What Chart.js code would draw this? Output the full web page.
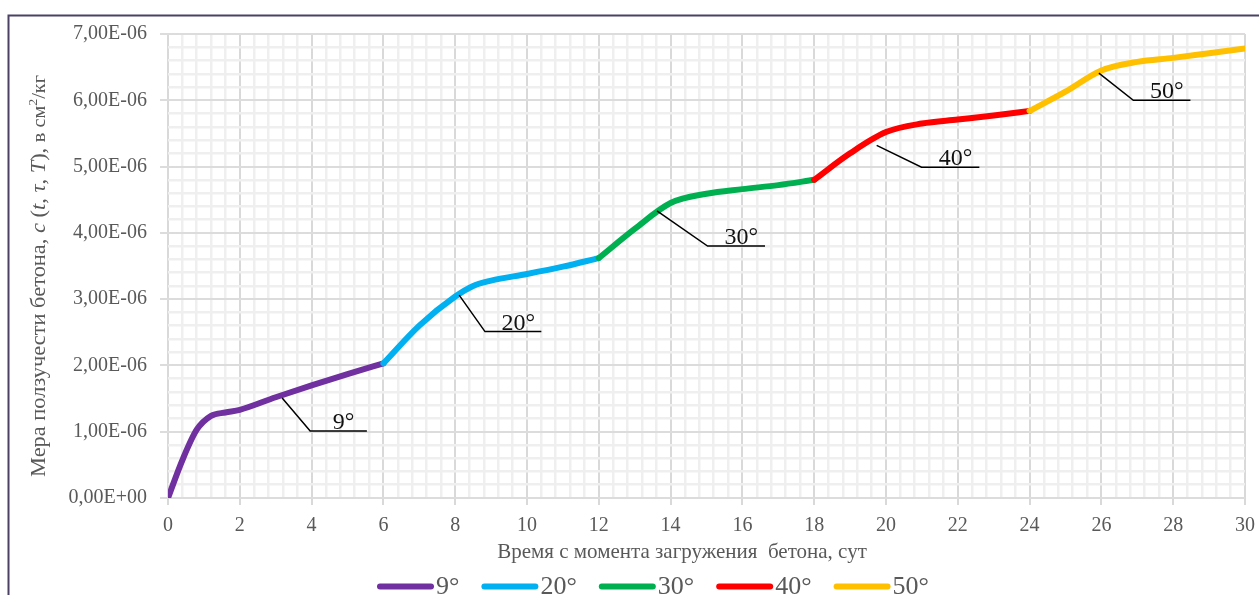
<!DOCTYPE html>
<html>
<head>
<meta charset="utf-8">
<script src="https://cdn.jsdelivr.net/npm/chart.js@4.4.1/dist/chart.umd.min.js"></script>
<style>
  html, body { margin: 0; padding: 0; background: #ffffff; overflow: hidden; }
  canvas { display: block; }
</style>
</head>
<body>
<canvas id="creep" width="1259" height="595"></canvas>
<script>
// Temperature regimes (one curve per 6-day period)
const seriesLabels = ['9°', '20°', '30°', '40°', '50°'];
const seriesColors = ['#7030a0', '#00b0f0', '#00b050', '#ff0000', '#ffc000'];

// Days since loading, per regime
const days9  = [0, 0.4, 0.8, 1.2, 1.6, 2, 3, 4, 5, 6];
const days20 = [6, 7, 8, 8.5, 9, 10, 11, 12];
const days30 = [12, 13, 14, 15, 16, 17, 18];
const days40 = [18, 19, 20, 21, 22, 23, 24];
const days50 = [24, 25, 26, 27, 28, 29, 30];

// Specific creep c(t, τ, T), cm²/kg
const creep9  = [0, 5.7e-7, 1.03e-6, 1.24e-6, 1.29e-6, 1.33e-6, 1.52e-6, 1.70e-6, 1.87e-6, 2.03e-6];
const creep20 = [2.03e-6, 2.60e-6, 3.04e-6, 3.20e-6, 3.28e-6, 3.38e-6, 3.49e-6, 3.62e-6];
const creep30 = [3.62e-6, 4.06e-6, 4.45e-6, 4.59e-6, 4.66e-6, 4.72e-6, 4.80e-6];
const creep40 = [4.80e-6, 5.20e-6, 5.52e-6, 5.65e-6, 5.71e-6, 5.77e-6, 5.84e-6];
const creep50 = [5.84e-6, 6.13e-6, 6.45e-6, 6.58e-6, 6.64e-6, 6.71e-6, 6.78e-6];

const seriesDays  = [days9, days20, days30, days40, days50];
const seriesCreep = [creep9, creep20, creep30, creep40, creep50];

// Leader callouts: point on the curve, elbow, end of the shelf (data coordinates)
const calloutLabels = ['9°', '20°', '30°', '40°', '50°'];
const calloutTipX   = [3.18, 8.11, 13.62, 19.74, 25.93];
const calloutTipY   = [1.51e-6, 3.06e-6, 4.33e-6, 5.32e-6, 6.41e-6];
const calloutElbowX = [3.96, 8.83, 15.03, 20.99, 26.89];
const calloutElbowY = [1.01e-6, 2.51e-6, 3.80e-6, 4.99e-6, 6.00e-6];
const calloutEndX   = [5.54, 10.40, 16.63, 22.60, 28.48];

// Axis settings
const xMin = 0, xMax = 30, xMinorStep = 0.4, xMajorStep = 2;
const yMin = 0, yMax = 7e-6, yMinorStep = 2e-7, yMajorStep = 1e-6;

const xTitle = 'Время с момента загружения  бетона, сут';

const SERIF = '"Liberation Serif", "Times New Roman", serif';
const TEXT_GREY = '#595959';

const isMajor = (v, step) => Math.abs(v / step - Math.round(v / step)) < 1e-6;

function excelSci(v) {
  // 7e-6 -> "7,00E-06"
  const [m, e] = v.toExponential(2).split('e');
  const n = parseInt(e, 10);
  const exp = (n < 0 ? '-' : '+') + String(Math.abs(n)).padStart(2, '0');
  return m.replace('.', ',') + 'E' + exp;
}

const datasets = seriesLabels.map((label, i) => ({
  label,
  data: seriesDays[i].map((d, j) => ({ x: d, y: seriesCreep[i][j] })),
  borderColor: seriesColors[i],
  backgroundColor: seriesColors[i],
  borderWidth: 6,
  pointRadius: 0,
  pointHoverRadius: 0,
  fill: false,
  cubicInterpolationMode: 'monotone',
  borderCapStyle: 'round',
  borderJoinStyle: 'round',
  order: seriesLabels.length - i
}));

// Frame around the whole chart
const framePlugin = {
  id: 'frame',
  beforeDraw(chart) {
    const { ctx, width, height } = chart;
    ctx.save();
    ctx.fillStyle = '#ffffff';
    ctx.fillRect(0, 0, width, height);
    ctx.strokeStyle = '#4a4165';
    ctx.lineWidth = 2;
    ctx.beginPath();
    ctx.moveTo(width + 5, 15.5);
    ctx.lineTo(8.5, 15.5);
    ctx.lineTo(8.5, height + 5);
    ctx.stroke();
    ctx.restore();
  }
};

// Callout leaders with temperature labels
const calloutPlugin = {
  id: 'callouts',
  afterDatasetsDraw(chart) {
    const { ctx } = chart;
    const xs = chart.scales.x, ys = chart.scales.y;
    ctx.save();
    ctx.strokeStyle = '#000000';
    ctx.lineWidth = 1.5;
    ctx.fillStyle = '#111111';
    ctx.font = '24px ' + SERIF;
    ctx.textAlign = 'center';
    ctx.textBaseline = 'alphabetic';
    calloutLabels.forEach((txt, i) => {
      const tx = xs.getPixelForValue(calloutTipX[i]);
      const ty = ys.getPixelForValue(calloutTipY[i]);
      const ex = xs.getPixelForValue(calloutElbowX[i]);
      const ey = ys.getPixelForValue(calloutElbowY[i]);
      const endX = xs.getPixelForValue(calloutEndX[i]);
      ctx.beginPath();
      ctx.moveTo(tx, ty);
      ctx.lineTo(ex, ey);
      ctx.lineTo(endX, ey);
      ctx.stroke();
      ctx.fillText(txt, (ex + endX) / 2 + 5, ey - 2);
    });
    ctx.restore();
  }
};

// Axis titles and legend
const textPlugin = {
  id: 'texts',
  afterDraw(chart) {
    const { ctx, chartArea } = chart;
    ctx.save();

    // X axis title
    ctx.fillStyle = TEXT_GREY;
    ctx.font = '21px ' + SERIF;
    ctx.textAlign = 'center';
    ctx.textBaseline = 'alphabetic';
    ctx.fillText(xTitle, 682, chartArea.bottom + 60);

    // Y axis title, rotated, with italic symbols and a superscript unit
    const runs = [
      { t: 'Мера ползучести бетона, ', f: '21px ' + SERIF },
      { t: 'c', f: 'italic 21px ' + SERIF },
      { t: ' (', f: '21px ' + SERIF },
      { t: 't', f: 'italic 21px ' + SERIF },
      { t: ', ', f: '21px ' + SERIF },
      { t: 'τ', f: 'italic 21px ' + SERIF },
      { t: ', ', f: '21px ' + SERIF },
      { t: 'T', f: 'italic 21px ' + SERIF },
      { t: '), ', f: '21px ' + SERIF },
      { t: 'в см', f: '19px ' + SERIF },
      { t: '2', f: '13px ' + SERIF, dy: -8 },
      { t: '/кг', f: '19px ' + SERIF }
    ];
    let total = 0;
    runs.forEach(r => { ctx.font = r.f; r.w = ctx.measureText(r.t).width; total += r.w; });
    const wanted = 402;
    const stretch = Math.min(1.08, Math.max(1, wanted / total));
    const cy = (chartArea.top + chartArea.bottom) / 2 + 10;
    ctx.translate(45, cy + total * stretch / 2);
    ctx.rotate(-Math.PI / 2);
    ctx.scale(stretch, 1);
    ctx.textAlign = 'left';
    let px = 0;
    runs.forEach(r => {
      ctx.font = r.f;
      ctx.fillText(r.t, px, r.dy || 0);
      px += r.w;
    });
    ctx.setTransform(1, 0, 0, 1, 0, 0);

    // Legend
    const lineLen = 51, cap = 3, gapText = 2, gapItem = 22;
    const legendCenter = 653, lineY = 586.5, textBase = 594;
    ctx.font = '26px ' + SERIF;
    const items = chart.data.datasets.map(ds => ({
      label: ds.label, color: ds.borderColor, w: ctx.measureText(ds.label).width
    }));
    let legendW = 0;
    items.forEach((it, i) => {
      legendW += lineLen + 2 * cap + gapText + it.w + (i < items.length - 1 ? gapItem : 0);
    });
    let lx = legendCenter - legendW / 2;
    ctx.textAlign = 'left';
    ctx.textBaseline = 'alphabetic';
    items.forEach(it => {
      ctx.strokeStyle = it.color;
      ctx.lineWidth = 6;
      ctx.lineCap = 'round';
      ctx.beginPath();
      ctx.moveTo(lx + cap, lineY);
      ctx.lineTo(lx + cap + lineLen, lineY);
      ctx.stroke();
      lx += lineLen + 2 * cap + gapText;
      ctx.fillStyle = TEXT_GREY;
      ctx.fillText(it.label, lx, textBase);
      lx += it.w + gapItem;
    });
    ctx.restore();
  }
};

new Chart(document.getElementById('creep'), {
  type: 'line',
  data: { datasets },
  options: {
    responsive: false,
    animation: false,
    devicePixelRatio: 1,
    layout: { padding: { left: 0, top: 34, right: 14, bottom: 57 } },
    plugins: {
      legend: { display: false },
      tooltip: { enabled: false },
      title: { display: false }
    },
    scales: {
      x: {
        type: 'linear',
        min: xMin,
        max: xMax,
        border: { display: false },
        ticks: {
          stepSize: xMinorStep,
          autoSkip: false,
          maxRotation: 0,
          minRotation: 0,
          padding: 9,
          color: TEXT_GREY,
          font: { family: SERIF, size: 20 },
          callback: v => isMajor(v, xMajorStep) ? String(Math.round(v)) : ''
        },
        grid: {
          color: c => isMajor(c.tick.value, xMajorStep) ? '#d9d9d9' : '#efefef',
          lineWidth: c => isMajor(c.tick.value, xMajorStep) ? 2 : 2.5,
          tickColor: c => isMajor(c.tick.value, xMajorStep) ? '#d9d9d9' : 'rgba(0,0,0,0)',
          tickLength: 7,
          tickWidth: 2
        },
        afterFit: s => { s.height = 40; s.paddingLeft = 0; s.paddingRight = 0; }
      },
      y: {
        type: 'linear',
        min: yMin,
        max: yMax,
        border: { display: false },
        ticks: {
          stepSize: yMinorStep,
          autoSkip: false,
          padding: 13,
          color: TEXT_GREY,
          font: { family: SERIF, size: 20 },
          callback: v => isMajor(v, yMajorStep) ? excelSci(v) : ''
        },
        grid: {
          color: c => isMajor(c.tick.value, yMajorStep) ? '#dcdcdc' : '#efefef',
          lineWidth: c => isMajor(c.tick.value, yMajorStep) ? 2 : 2.5,
          tickColor: c => isMajor(c.tick.value, yMajorStep) ? '#dcdcdc' : 'rgba(0,0,0,0)',
          tickLength: 8,
          tickWidth: 2
        },
        afterFit: s => { s.width = 168; s.paddingTop = 0; s.paddingBottom = 0; }
      }
    }
  },
  plugins: [framePlugin, calloutPlugin, textPlugin]
});
</script>
</body>
</html>
